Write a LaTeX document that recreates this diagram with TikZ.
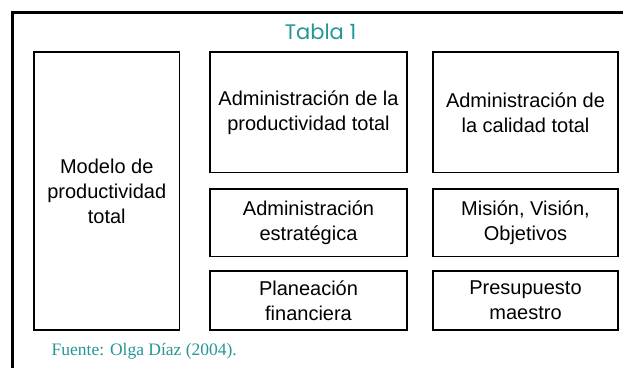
\documentclass[tikz,border=0pt]{standalone}
\usepackage{fontspec}
\setmainfont{Liberation Sans}
\newfontfamily\titlefont{Poppins}
\newfontfamily\srcfont{Liberation Serif}
\definecolor{tealc}{RGB}{38,150,148}
\begin{document}
\begin{tikzpicture}[x=1pt,y=-1pt,
  box/.style={draw=black,line width=1.8pt,rectangle,inner sep=0pt,align=center,
    font=\fontsize{20}{25}\selectfont},
  frame/.style={draw=black,line width=2.2pt}]
\useasboundingbox (0,0) rectangle (623,367);
\clip (0,0) rectangle (623,367);
\draw[frame] (12.5,12.5) rectangle (660,420);
\node[anchor=base,text=tealc,font=\titlefont\fontsize{21}{21}\selectfont,inner sep=0pt] (title) at (320.5,39) {Tabla 1};
% left column
\node[box,minimum width=145.5pt,minimum height=278pt] (modelo) at (106.75,191) {Modelo de\\productividad\\total};
% middle column
\node[box,minimum width=197pt,minimum height=120.5pt] (adprod) at (308.5,112.25) {Administración de la\\productividad total};
\node[box,minimum width=197pt,minimum height=67.5pt] (adestr) at (308.5,222.75) {Administración\\estratégica};
\node[box,minimum width=197pt,minimum height=59pt] (planea) at (308.5,300.5) {Planeación\\financiera};
% right column
\node[box,minimum width=185pt,minimum height=120.5pt] (adcal) at (525.5,112.25) {Administración de\\la calidad total};
\node[box,minimum width=185pt,minimum height=67.5pt] (mision) at (525.5,222.75) {Misión, Visión,\\Objetivos};
\node[box,minimum width=185pt,minimum height=59pt] (presup) at (525.5,300.5) {Presupuesto\\maestro};
\node[anchor=base west,text=tealc,font=\srcfont\fontsize{17.5}{17.5}\selectfont,inner sep=0pt] (fuente) at (51.5,355) {Fuente: Olga Díaz (2004).};
\end{tikzpicture}
\end{document}
